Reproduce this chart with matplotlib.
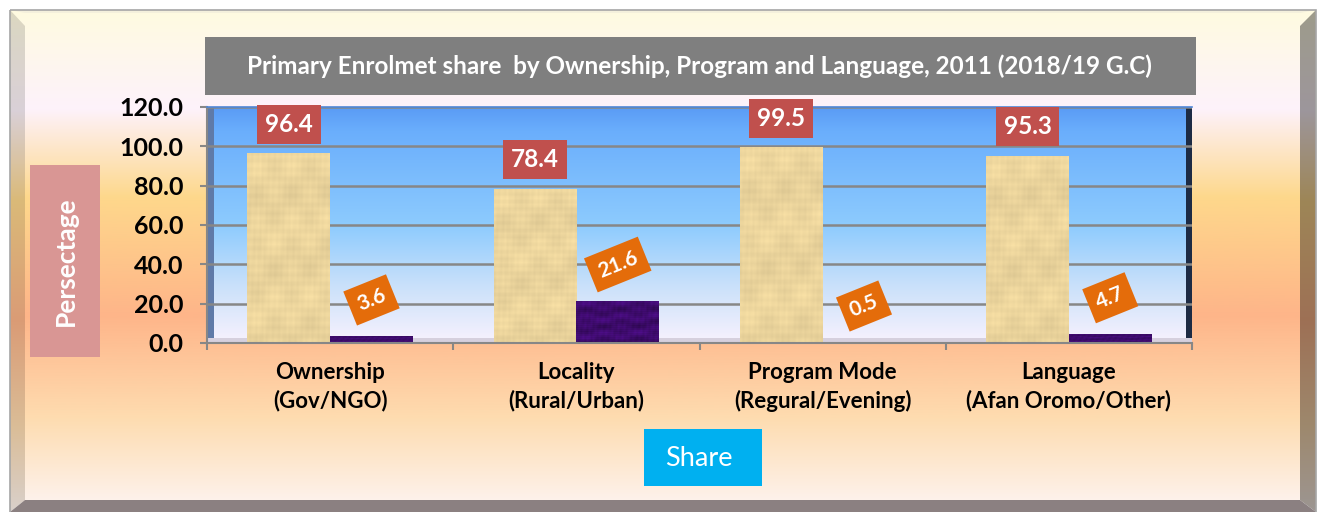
import matplotlib
matplotlib.use("Agg")
import matplotlib.pyplot as plt
import numpy as np
from matplotlib.colors import to_rgb
from matplotlib.patches import Polygon, Rectangle

plt.rcParams["font.family"] = ["Lato", "DejaVu Sans"]

# ---- data ----
categories = ["Ownership\n(Gov/NGO)", "Locality\n(Rural/Urban)",
              "Program Mode\n(Regural/Evening)", "Language\n(Afan Oromo/Other)"]
major_share = [96.4, 78.4, 99.5, 95.3]   # Gov / Rural / Regular / Afan Oromo
minor_share = [3.6, 21.6, 0.5, 4.7]      # NGO / Urban / Evening / Other
y_ticks = [0, 20, 40, 60, 80, 100, 120]
title = "Primary Enrolmet share  by Ownership, Program and Language, 2011 (2018/19 G.C)"
y_label = "Persectage"
x_label = "Share"

W, H = 1319, 512
GOLD = "#ebd49c"
PURPLE = "#3e0b6d"
GRID = "#878787"


def gradient(stops, n=512):
    pos = [s[0] for s in stops]
    cols = np.array([to_rgb(s[1]) for s in stops])
    t = np.linspace(0, 1, n)
    return np.stack([np.interp(t, pos, cols[:, k]) for k in range(3)], axis=-1)


def texture(base, h, w, amp):
    # deterministic fibre-like pattern so the bars don't look flat
    yy, xx = np.mgrid[0:h, 0:w].astype(float)
    t = (np.sin(yy * 1.7) * 0.5 + np.sin(xx * 2.3 + yy * 0.11) * 0.4
         + np.sin(xx * 0.37) * np.sin(yy * 0.29) * 0.8 + np.sin(yy * 0.21 + xx * 0.05) * 0.5)
    img = np.array(to_rgb(base))[None, None, :] * (1 + amp * t[..., None] / 2.2)
    return np.clip(img, 0, 1)


fig = plt.figure(figsize=(W / 100, H / 100), dpi=100)

# ---- background: bevelled frame with sunset gradient ----
bg = fig.add_axes([0, 0, 1, 1])
bg.set_xlim(0, W)
bg.set_ylim(H, 0)
bg.axis("off")

face = gradient([(0, "#fffbe0"), (0.2, "#fdf2fb"), (0.38, "#fed88c"),
                 (0.62, "#feb589"), (0.83, "#fedcb0"), (1, "#fdf2ec")])
bg.imshow(face[:, None, :], extent=(10, 1316, 502, 10), aspect="auto", zorder=0)

right_bevel = Polygon([(1316, 10), (1300, 26), (1300, 500), (1316, 512)], closed=True,
                      facecolor="none", edgecolor="none")
bg.add_patch(right_bevel)
im = bg.imshow(face[:, None, :] * 0.62, extent=(1300, 1316, 512, 10), aspect="auto", zorder=1)
im.set_clip_path(right_bevel)

left_bevel = Polygon([(10, 10), (25, 26), (25, 500), (10, 512)], closed=True,
                     facecolor="none", edgecolor="none")
bg.add_patch(left_bevel)
im = bg.imshow(face[:, None, :] * 0.86, extent=(10, 25, 512, 10), aspect="auto", zorder=1)
im.set_clip_path(left_bevel)

bg.add_patch(Polygon([(10, 512), (25, 500), (1300, 500), (1316, 512)], closed=True,
                     facecolor="#8b8081", edgecolor="none", zorder=2))
bg.add_patch(Polygon([(10, 10), (1316, 10), (1300, 13), (25, 13)], closed=True,
                     facecolor="#f4f0dc", edgecolor="none", zorder=2))
bg.add_patch(Rectangle((10, 10), 1306, 510, facecolor="none", edgecolor="#a6a6a6", lw=1.2, zorder=3))

# title box
bg.add_patch(Rectangle((205, 37), 991, 58, facecolor="#7f7f7f", edgecolor="none", zorder=3))
bg.text(699, 66, title, color="white", fontsize=17.5, fontweight="bold",
        ha="center", va="center", zorder=4)

# y label box
bg.add_patch(Rectangle((30, 165), 70, 192, facecolor="#d99694", edgecolor="none", zorder=3))
bg.text(66, 261, y_label, color="white", fontsize=19, fontweight="bold", rotation=90,
        ha="center", va="center", zorder=4)

# x label box
bg.add_patch(Rectangle((644, 429), 118, 57, facecolor="#00b0f0", edgecolor="none", zorder=3))
bg.text(699, 458, x_label, color="white", fontsize=19.5, ha="center", va="center", zorder=4)

# ---- plot area ----
ax = fig.add_axes([207 / W, (H - 343) / H, (1192 - 207) / W, (343 - 107) / H])
ax.set_facecolor("none")

sky = gradient([(0, "#5a9bf5"), (0.1, "#6aaefc"), (0.5, "#8dcbfe"),
                (0.75, "#c8e0fa"), (1, "#f8f2fe")])
ax.imshow(sky[:, None, :], extent=(-0.5, 3.5, 0, 120), aspect="auto", zorder=0)

# 3-D walls and floor
ax.add_patch(Rectangle((0, 0), 7 / 985, 1, transform=ax.transAxes,
                       facecolor="#5f7aa8", edgecolor="none", zorder=0.3))
ax.add_patch(Rectangle((1 - 6 / 985, 0), 6 / 985, 1, transform=ax.transAxes,
                       facecolor="#1d2b44", edgecolor="none", zorder=0.3))
ax.add_patch(Rectangle((0, 0), 1, 5 / 236, transform=ax.transAxes,
                       facecolor="#d6d0de", edgecolor="none", zorder=0.4))

x = np.arange(len(categories))
bw = 0.336
bars_major = ax.bar(x - bw / 2, major_share, bw, color=GOLD, zorder=2)
bars_minor = ax.bar(x + bw / 2, minor_share, bw, color=PURPLE, zorder=2)

for bars, base, amp in [(bars_major, GOLD, 0.07), (bars_minor, PURPLE, 0.35)]:
    for b in bars:
        x0, y0 = b.get_x(), b.get_y()
        img = texture(base, 80, 40, amp)
        tim = ax.imshow(img, extent=(x0, x0 + b.get_width(), y0, y0 + b.get_height()),
                        aspect="auto", zorder=2.1, interpolation="bilinear")
        tim.set_clip_path(b)

for xi, v in zip(x, major_share):
    ax.annotate(f"{v:.1f}", xy=(xi - bw / 2, v), xytext=(0, 29), textcoords="offset pixels",
                ha="center", va="center", color="white", fontsize=17.5, fontweight="bold",
                bbox=dict(boxstyle="square,pad=0.33", facecolor="#c0504d", edgecolor="none"),
                zorder=5)

for xi, v in zip(x, minor_share):
    ax.annotate(f"{v:.1f}", xy=(xi + bw / 2, v), xytext=(0, 36), textcoords="offset pixels",
                ha="center", va="center", rotation=22, rotation_mode="anchor",
                color="white", fontsize=15, fontweight="bold",
                bbox=dict(boxstyle="square,pad=0.4", facecolor="#e46c0a", edgecolor="none"),
                zorder=5)

ax.set_xlim(-0.5, 3.5)
ax.set_ylim(0, 120)
ax.set_yticks(y_ticks)
ax.set_yticklabels([f"{v:.1f}" for v in y_ticks], fontsize=18, fontweight="bold")
ax.yaxis.grid(True, color=GRID, lw=1.8)
ax.set_axisbelow(True)
ax.tick_params(axis="y", length=5, width=1.5, color=GRID, pad=12)

ax.set_xticks(x)
ax.set_xticklabels(categories, fontsize=16, fontweight="bold", linespacing=1.35)
ax.set_xticks([-0.5, 0.5, 1.5, 2.5, 3.5], minor=True)
ax.tick_params(axis="x", which="major", length=0, pad=14)
ax.tick_params(axis="x", which="minor", length=5, width=1.5, color=GRID)

for side in ["left", "bottom"]:
    ax.spines[side].set_color(GRID)
    ax.spines[side].set_linewidth(1.5)
ax.spines["right"].set_visible(False)
ax.spines["top"].set_color("#4f86d8")
ax.spines["top"].set_linewidth(1.2)

fig.savefig("out.png", dpi=100)
